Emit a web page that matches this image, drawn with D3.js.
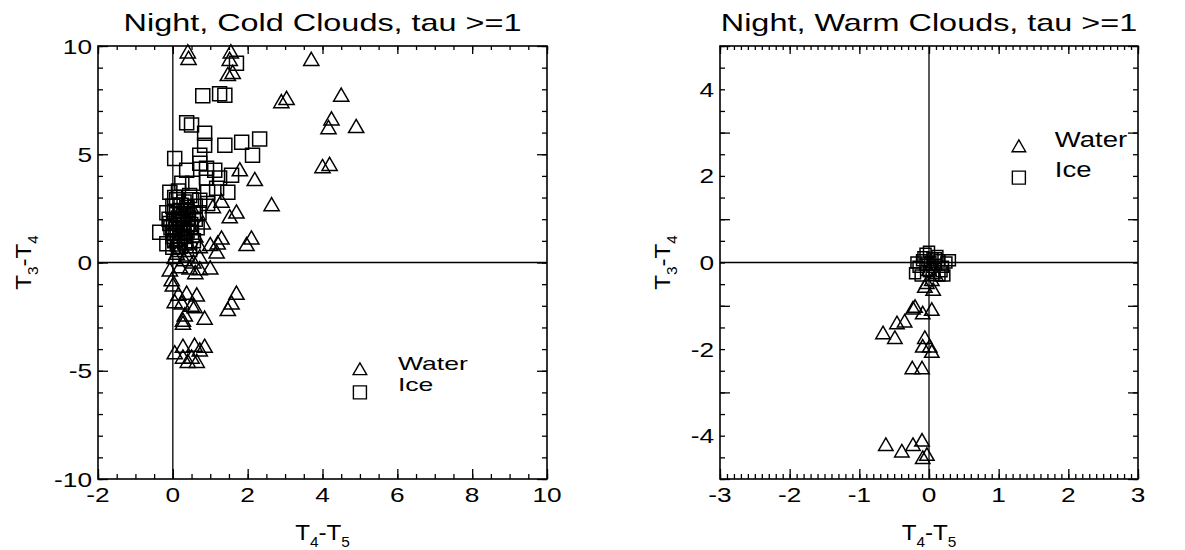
<!DOCTYPE html>
<html>
<head>
<meta charset="utf-8">
<script src="https://cdn.jsdelivr.net/npm/d3@7"></script>
<style>
  body { margin: 0; background: #fff; }
  text { font-family: "Liberation Sans", Arial, Helvetica, sans-serif; fill: #000; }
</style>
</head>
<body>
<script>
// ---- data ----
var titles = ["Night, Cold Clouds, tau >=1", "Night, Warm Clouds, tau >=1"];
var legendNames = ["Water", "Ice"];

var coldXTicks = [-2, 0, 2, 4, 6, 8, 10];
var coldYTicks = [-10, -5, 0, 5, 10];
var warmXTicks = [-3, -2, -1, 0, 1, 2, 3];
var warmYTicks = [-4, -2, 0, 2, 4];

// cold clouds, water (triangles)  [T4-T5, T3-T4]
var coldWater = [
  [0.4,9.7],[0.42,9.4],[1.55,9.7],[1.52,9.35],[1.47,8.65],[1.6,8.75],[3.7,9.35],
  [2.9,7.4],[3.04,7.55],[4.5,7.7],[4.24,6.6],[4.16,6.2],[4.9,6.25],[4.0,4.4],[4.19,4.5],
  [1.79,4.25],[2.19,3.8],[2.64,2.64],[1.3,2.8],[1.07,2.55],[1.7,2.3],[1.52,2.08],[0.8,1.8],
  [2.1,1.1],[1.97,0.8],[1.3,1.1],[1.2,0.87],[1.0,0.8],[1.17,0.46],
  [0.72,0.7],[0.45,0.7],[0.1,0.4],[0.37,0.32],[0.72,0.23],[0.19,-0.23],[0.45,-0.28],
  [0.72,-0.32],[1.0,-0.28],[-0.08,-0.37],[-0.03,-0.83],[0.0,-1.07],[0.3,0.1],[0.55,0.0],
  [0.05,0.2],[0.6,-0.5],[0.3,1.5],[0.5,2.5],[0.1,1.0],[0.6,1.2],
  [0.37,-1.45],[0.64,-1.53],[0.05,-1.84],[0.24,-1.9],[0.5,-2.0],[0.58,-2.07],[0.32,-2.45],
  [0.27,-2.7],[0.27,-2.84],[0.85,-2.6],[1.7,-1.45],[1.57,-1.9],[1.47,-2.2],[0.15,-1.5],
  [0.05,-4.2],[0.27,-3.9],[0.58,-3.85],[0.85,-3.9],[0.72,-4.07],[0.27,-4.4],[0.4,-4.6],
  [0.64,-4.6],[0.5,-4.4]
];

// cold clouds, ice (squares)
var coldIce = [
  [1.7,9.2],[0.8,7.7],[1.25,7.8],[1.39,7.73],[0.37,6.45],[0.5,6.35],[0.85,5.97],[0.85,5.42],
  [1.39,5.42],[1.84,5.56],[2.32,5.7],[2.13,4.95],[0.05,4.8],[0.72,4.95],[0.72,4.58],[0.37,4.26],
  [0.9,4.35],[1.12,4.26],[1.57,4.03],[1.25,3.9],[1.47,3.25],[1.17,3.43],[0.9,3.9],[0.93,3.25],
  [0.53,3.66],[0.24,3.66],[-0.08,3.25],[0.72,2.87],[0.93,2.73],
  [-0.35,1.4],[-0.16,2.3],[-0.08,1.8],[0.05,1.0],[-0.16,0.87],[0.0,2.6],[0.1,2.9],[0.2,2.4],
  [0.3,2.8],[0.4,2.2],[0.5,2.9],[0.6,2.6],[0.0,1.4],[0.1,1.9],[0.2,1.6],[0.3,1.2],[0.4,1.8],
  [0.5,1.4],[0.6,2.0],[0.1,2.2],[0.2,1.1],[0.35,0.9],[0.45,0.6],[0.15,0.6],[0.0,0.7],
  [0.55,1.0],[-0.1,2.0],[0.25,2.0],[0.65,1.6],[0.05,3.0],[0.15,3.3],[0.45,3.1],[0.7,2.3],
  [0.3,1.7],[0.0,1.2],[-0.05,1.6],[0.12,1.35],[0.38,2.55],
  [0.08,1.55],[0.18,1.85],[0.28,2.15],[0.38,1.45],[0.48,1.75],[0.22,2.65],[0.05,2.35],
  [0.32,0.95],[0.12,0.85],[0.42,2.05],[0.25,1.35],[0.15,2.05],[0.35,2.35],[0.02,1.9],
  [0.55,2.25],[0.2,0.75]
];

// warm clouds, water (triangles)
var warmWater = [
  [-0.2,-1.03],[-0.23,-1.07],[-0.09,-1.18],[0.04,-1.1],[-0.46,-1.41],[-0.35,-1.37],
  [-0.66,-1.64],[-0.49,-1.75],[-0.06,-1.75],[-0.09,-1.95],[0.01,-1.95],[0.04,-2.07],
  [-0.24,-2.45],[-0.1,-2.45],[-0.62,-4.22],[-0.39,-4.37],[-0.23,-4.22],[-0.1,-4.12],
  [-0.03,-4.45],[-0.09,-4.52],[-0.03,-0.48],[0.06,-0.64],[-0.06,-0.57],[0.04,-0.41],
  [0.0,-0.18],[0.1,-0.3],[0.05,-0.05]
];

// warm clouds, ice (squares)
var warmIce = [
  [-0.15,-0.1],[-0.1,0.05],[-0.05,0.2],[0.0,0.25],[0.05,0.1],[0.1,-0.05],[0.15,0.05],
  [0.2,-0.1],[0.25,0.0],[0.3,0.05],[-0.2,-0.25],[-0.12,-0.3],[0.0,-0.2],[0.08,-0.25],
  [0.18,-0.2],[0.22,-0.3],[-0.05,-0.05],[0.05,-0.1],[0.12,0.15],[-0.08,0.12],[0.02,0.02],
  [0.15,-0.3],[-0.18,0.0],[0.1,0.1]
];

// ---- drawing ----
var svg = d3.select("body").append("svg")
            .attr("width", 1185)
            .attr("height", 550);

var stretch = 1.25;   // the original lettering is wider than Helvetica

// text that is stretched sideways around its anchor point
function wideText(parent, x, y, str, size, anchor, sx, rot) {
    var g = parent.append("g")
        .attr("transform", "translate(" + x + "," + y + ")" + (rot ? " rotate(" + rot + ")" : "") + " scale(" + sx + ",1)");
    return g.append("text")
        .attr("text-anchor", anchor)
        .attr("font-size", size)
        .text(str);
}

// T_a - T_b with subscripts
function subLabel(parent, x, y, a, b, rot) {
    var g = parent.append("g")
        .attr("transform", "translate(" + x + "," + y + ")" + (rot ? " rotate(" + rot + ")" : "") + " scale(1.1,1)");
    var t = g.append("text").attr("text-anchor", "middle").attr("font-size", 22);
    t.append("tspan").text("T");
    t.append("tspan").attr("font-size", 14).attr("dy", 7).text(a);
    t.append("tspan").attr("dy", -7).text("-T");
    t.append("tspan").attr("font-size", 14).attr("dy", 7).text(b);
}

function range(a, b, step) {
    return d3.range(Math.round((b - a) / step) + 1).map(function(i) { return +(a + i * step).toFixed(4); });
}

function panel(p) {
    var g = svg.append("g");

    var x = d3.scaleLinear().domain(p.xDomain).range([p.left, p.right]);
    var y = d3.scaleLinear().domain(p.yDomain).range([p.bottom, p.top]);

    // zero lines
    g.append("line")
        .attr("x1", p.left).attr("x2", p.right)
        .attr("y1", y(0)).attr("y2", y(0))
        .attr("stroke", "#000").attr("stroke-width", 1.3);
    g.append("line")
        .attr("x1", x(0)).attr("x2", x(0))
        .attr("y1", p.top).attr("y2", p.bottom)
        .attr("stroke", "#000").attr("stroke-width", 1.3);

    // ticks on all four sides, pointing in
    function ticks(axis, vals, len, tr) {
        var a = g.append("g")
            .attr("transform", tr)
            .call(axis.tickValues(vals).tickSize(len).tickSizeOuter(0).tickFormat(""));
        a.select(".domain").remove();
        a.selectAll("line").attr("stroke", "#000").attr("stroke-width", 1.3);
    }
    var xMinor = range(p.xDomain[0], p.xDomain[1], p.xMinor);
    var yMinor = range(p.yDomain[0], p.yDomain[1], p.yMinor);
    var xMajor = range(p.xDomain[0], p.xDomain[1], p.xMajor);
    var yMajor = range(p.yDomain[0], p.yDomain[1], p.yMajor);

    ticks(d3.axisBottom(x), xMinor, -5, "translate(0," + p.bottom + ")");
    ticks(d3.axisBottom(x), xMajor, -10, "translate(0," + p.bottom + ")");
    ticks(d3.axisTop(x), xMinor, -4, "translate(0," + p.top + ")");
    ticks(d3.axisTop(x), xMajor, -8, "translate(0," + p.top + ")");
    ticks(d3.axisLeft(y), yMinor, -5, "translate(" + p.left + ",0)");
    ticks(d3.axisLeft(y), yMajor, -10, "translate(" + p.left + ",0)");
    ticks(d3.axisRight(y), yMinor, -5, "translate(" + p.right + ",0)");
    ticks(d3.axisRight(y), yMajor, -10, "translate(" + p.right + ",0)");

    // frame
    g.append("rect")
        .attr("x", p.left).attr("y", p.top)
        .attr("width", p.right - p.left).attr("height", p.bottom - p.top)
        .attr("fill", "none").attr("stroke", "#000").attr("stroke-width", 1.6);

    // tick labels
    p.xTicks.forEach(function(v) {
        wideText(g, x(v), p.bottom + 23, String(v), 21, "middle", stretch);
    });
    p.yTicks.forEach(function(v) {
        wideText(g, p.left - 6, y(v) + 7.5, String(v), 21, "end", stretch);
    });

    // titles
    wideText(g, (p.left + p.right) / 2, 31, p.title, 24, "middle", 1.35);
    subLabel(g, (p.left + p.right) / 2, 540, "4", "5");
    subLabel(g, p.yLabelX, (p.top + p.bottom) / 2, "3", "4", -90);

    // points
    var tri = d3.symbol().type(d3.symbolTriangle).size(p.triSize);
    var sq = d3.symbol().type(d3.symbolSquare).size(p.sqSize);

    g.selectAll(".ice")
        .data(p.ice)
        .enter()
        .append("path")
        .attr("class", "ice")
        .attr("d", sq)
        .attr("transform", function(d) { return "translate(" + x(d[0]) + "," + y(d[1]) + ")"; })
        .attr("fill", "none").attr("stroke", "#000").attr("stroke-width", 1.5);

    g.selectAll(".water")
        .data(p.water)
        .enter()
        .append("path")
        .attr("class", "water")
        .attr("d", tri)
        .attr("transform", function(d) { return "translate(" + x(d[0]) + "," + (y(d[1]) + 1) + ")"; })
        .attr("fill", "none").attr("stroke", "#000").attr("stroke-width", 1.5);

    // legend
    var lt = d3.symbol().type(d3.symbolTriangle).size(80);
    var ls = d3.symbol().type(d3.symbolSquare).size(170);
    g.append("path").attr("d", lt)
        .attr("transform", "translate(" + x(p.legend[0]) + "," + y(p.legend[1]) + ")")
        .attr("fill", "none").attr("stroke", "#000").attr("stroke-width", 1.4);
    g.append("path").attr("d", ls)
        .attr("transform", "translate(" + x(p.legend[0]) + "," + y(p.legend[2]) + ")")
        .attr("fill", "none").attr("stroke", "#000").attr("stroke-width", 1.4);
    wideText(g, x(p.legend[0]) + p.legendGap, y(p.legend[1]) - 1, legendNames[0], p.legendSize, "start", p.legendStretch);
    wideText(g, x(p.legend[0]) + p.legendGap, y(p.legend[2]) - 1, legendNames[1], p.legendSize, "start", p.legendStretch);
}

panel({
    title: titles[0],
    left: 98, right: 547, top: 46, bottom: 479,
    xDomain: [-2, 10], yDomain: [-10, 10],
    xMajor: 2, xMinor: 0.5, yMajor: 5, yMinor: 1,
    xTicks: coldXTicks, yTicks: coldYTicks,
    yLabelX: 31,
    water: coldWater, ice: coldIce,
    triSize: 100, sqSize: 196,
    legend: [5, -5, -6], legendGap: 38, legendSize: 19, legendStretch: 1.4
});

panel({
    title: titles[1],
    left: 720, right: 1138, top: 46, bottom: 479,
    xDomain: [-3, 3], yDomain: [-5, 5],
    xMajor: 1, xMinor: 0.1, yMajor: 2, yMinor: 0.5,
    xTicks: warmXTicks, yTicks: warmYTicks,
    yLabelX: 670,
    water: warmWater, ice: warmIce,
    triSize: 90, sqSize: 121,
    legend: [1.29, 2.65, 1.96], legendGap: 36, legendSize: 22, legendStretch: 1.25
});
</script>
</body>
</html>
